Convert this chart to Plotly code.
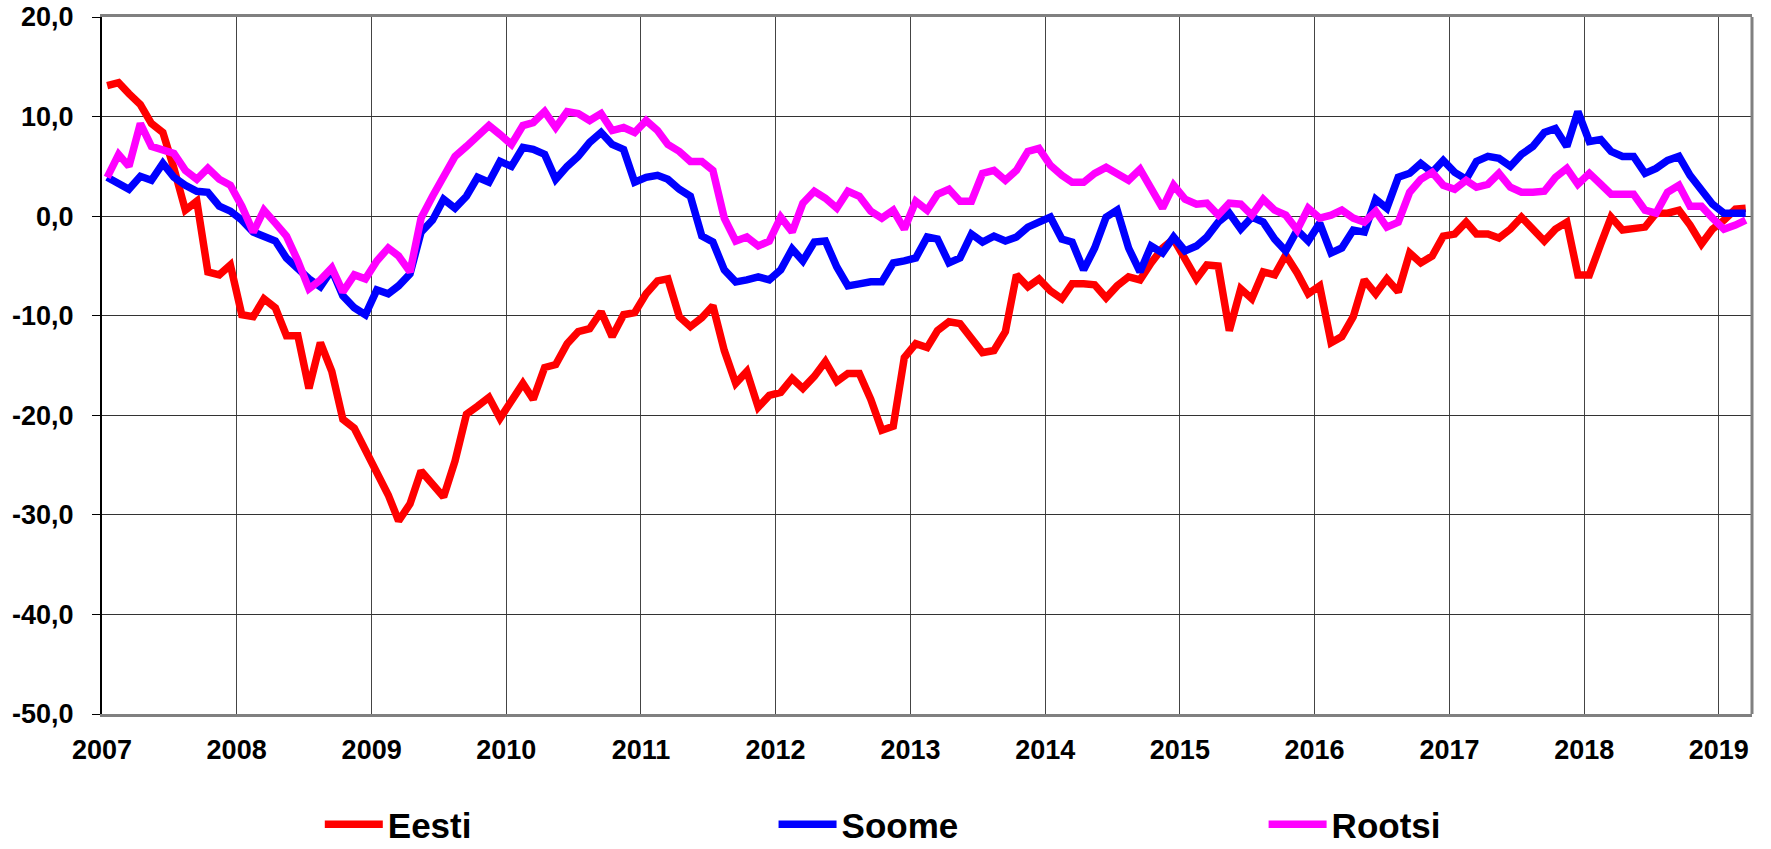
import pandas as pd
import plotly.graph_objects as go

# monthly data, Jan 2007 .. Mar 2019
months = pd.date_range("2007-01-01", periods=147, freq="MS") + pd.Timedelta(days=14)

eesti = [13.1, 13.4, 12.3, 11.2, 9.3, 8.4, 4.8, 0.6, 1.5, -5.6, -5.9, -4.9,
         -9.9, -10.1, -8.3, -9.2, -12.0, -12.0, -17.3, -12.7, -15.6, -20.4, -21.3, -23.5,
         -25.5, -28.0, -30.6, -28.9, -25.6, -27.0, -28.2, -24.6, -19.9, -19.1, -18.2, -20.3,
         -18.7, -16.8, -18.4, -15.2, -14.9, -12.8, -11.6, -11.3, -9.6, -12.1, -9.9, -9.7,
         -7.8, -6.5, -6.3, -10.1, -11.1, -10.2, -9.0, -13.5, -16.8, -15.6, -19.2, -18.0,
         -17.7, -16.3, -17.3, -16.1, -14.6, -16.6, -15.8, -15.8, -18.4, -21.5, -21.1, -14.2,
         -12.8, -13.2, -11.5, -10.6, -10.8, -12.3, -13.7, -13.5, -11.6, -5.9, -7.1, -6.3,
         -7.5, -8.3, -6.8, -6.8, -6.9, -8.2, -7.0, -6.1, -6.4, -4.7, -3.2, -2.3,
         -4.4, -6.3, -4.9, -5.0, -11.5, -7.3, -8.3, -5.6, -5.9, -3.9, -5.7, -7.8,
         -7.0, -12.7, -12.1, -10.1, -6.4, -7.8, -6.3, -7.6, -3.7, -4.7, -4.0, -2.0,
         -1.8, -0.6, -1.8, -1.8, -2.2, -1.3, -0.1, -1.3, -2.5, -1.3, -0.6, -5.9,
         -5.9, -2.8, -0.1, -1.4, -1.3, -1.1, 0.3, 0.3, 0.6, -0.9, -2.8, -1.3,
         -0.4, 0.7, 0.8]

soome = [3.9, 3.2, 2.7, 4.0, 3.6, 5.3, 3.9, 3.1, 2.5, 2.4, 1.0, 0.5,
         -0.4, -1.6, -2.1, -2.5, -4.2, -5.4, -6.3, -7.1, -5.4, -8.0, -9.2, -9.9,
         -7.4, -7.8, -7.0, -5.8, -1.6, -0.4, 1.7, 0.8, 2.0, 3.9, 3.4, 5.5,
         5.0, 6.9, 6.7, 6.2, 3.7, 5.0, 6.0, 7.4, 8.4, 7.2, 6.7, 3.4,
         3.9, 4.1, 3.7, 2.7, 2.0, -2.0, -2.6, -5.4, -6.6, -6.4, -6.1, -6.4,
         -5.4, -3.3, -4.5, -2.6, -2.5, -5.1, -7.0, -6.8, -6.6, -6.6, -4.7, -4.5,
         -4.2, -2.1, -2.3, -4.7, -4.2, -1.8, -2.6, -2.0, -2.5, -2.1, -1.1, -0.6,
         -0.1, -2.3, -2.6, -5.4, -3.2, -0.1, 0.6, -3.2, -5.6, -3.0, -3.7, -2.1,
         -3.5, -3.0, -2.1, -0.6, 0.3, -1.3, -0.1, -0.6, -2.3, -3.5, -1.4, -2.5,
         -0.7, -3.7, -3.2, -1.4, -1.6, 1.7, 0.8, 3.9, 4.3, 5.3, 4.4, 5.6,
         4.4, 3.7, 5.5, 6.0, 5.8, 5.0, 6.2, 7.0, 8.4, 8.8, 7.0, 10.5,
         7.5, 7.7, 6.5, 6.0, 6.0, 4.3, 4.8, 5.6, 6.0, 4.1, 2.7, 1.2,
         0.3, 0.3, 0.3]

rootsi = [3.9, 6.2, 5.0, 9.3, 7.0, 6.7, 6.3, 4.6, 3.7, 4.8, 3.7, 3.1,
          1.0, -1.6, 0.6, -0.7, -2.0, -4.5, -7.3, -6.4, -5.2, -7.6, -5.9, -6.3,
          -4.5, -3.2, -4.0, -5.6, -0.2, 2.0, 4.1, 6.0, 7.0, 8.1, 9.1, 8.2,
          7.2, 9.1, 9.4, 10.5, 8.9, 10.5, 10.3, 9.6, 10.3, 8.6, 8.9, 8.4,
          9.6, 8.6, 7.2, 6.5, 5.5, 5.5, 4.6, -0.2, -2.5, -2.1, -3.0, -2.5,
          -0.1, -1.6, 1.3, 2.5, 1.8, 0.8, 2.5, 2.0, 0.5, -0.2, 0.6, -1.3,
          1.5, 0.6, 2.2, 2.7, 1.5, 1.5, 4.3, 4.6, 3.6, 4.6, 6.5, 6.8,
          5.1, 4.1, 3.4, 3.4, 4.3, 4.9, 4.3, 3.6, 4.7, 2.9, 0.8, 3.1,
          1.7, 1.2, 1.3, 0.1, 1.3, 1.2, 0.1, 1.7, 0.6, 0.1, -1.4, 0.8,
          -0.2, 0.1, 0.6, -0.2, -0.6, 0.5, -1.1, -0.6, 2.4, 3.7, 4.4, 3.1,
          2.7, 3.6, 2.9, 3.2, 4.3, 2.9, 2.4, 2.4, 2.5, 3.9, 4.8, 3.2,
          4.3, 3.2, 2.2, 2.2, 2.2, 0.6, 0.3, 2.4, 3.1, 1.0, 1.0, -0.2,
          -1.3, -0.9, -0.4]

years = list(range(2007, 2020))
year_ticks = [f"{y}-01-01" for y in years]
year_labels = [str(y) for y in years]

y_ticks = [20, 10, 0, -10, -20, -30, -40, -50]
y_labels = ["20,0", "10,0", "0,0", "-10,0", "-20,0", "-30,0", "-40,0", "-50,0"]

series = [("Eesti", eesti, "#FF0000", "legend"),
          ("Soome", soome, "#0000FF", "legend2"),
          ("Rootsi", rootsi, "#FF00FF", "legend3")]

fig = go.Figure()
for name, vals, color, leg in series:
    fig.add_trace(go.Scatter(
        x=months, y=vals, name=name, mode="lines",
        line=dict(color=color, width=7.5),
        legend=leg
    ))

legend_font = dict(family="Liberation Sans, Arial", size=35, color="black", weight="bold")
leg_common = dict(orientation="h", yref="container", yanchor="middle", y=0.029,
                  xanchor="left", font=legend_font, itemwidth=58,
                  bgcolor="rgba(0,0,0,0)")

fig.update_layout(
    width=1771, height=849, autosize=False,
    margin=dict(l=102, r=19, t=17, b=135),
    paper_bgcolor="white", plot_bgcolor="white",
    font=dict(family="Liberation Sans, Arial", size=27, color="black", weight="bold"),
    showlegend=True,
    legend=dict(x=0.132, **leg_common),
    legend2=dict(x=0.407, **leg_common),
    legend3=dict(x=0.704, **leg_common),
    xaxis=dict(
        type="date", range=["2007-01-01", "2019-04-01"],
        tickmode="array", tickvals=year_ticks, ticktext=year_labels,
        showgrid=True, gridcolor="#444444", gridwidth=1,
        showline=True, linecolor="#808080", linewidth=3, mirror=True,
        ticks="", ticklabelstandoff=10, automargin=False,
    ),
    yaxis=dict(
        range=[-50, 20],
        tickmode="array", tickvals=y_ticks, ticktext=y_labels,
        showgrid=True, gridcolor="#333333", gridwidth=1,
        zeroline=False,
        showline=True, linecolor="black", linewidth=2,
        ticks="outside", ticklen=8, tickcolor="black", tickwidth=1,
        ticklabelstandoff=13, automargin=False,
    ),
    shapes=[dict(type="line", xref="paper", yref="paper", x0=1, x1=1, y0=0, y1=1,
                 line=dict(color="#808080", width=3))],
)

# drop the browser's default page margin so the figure sits at the window corner
fig.write_html("out.html", config={"displayModeBar": False},
               post_script="document.body.style.margin='0';")
